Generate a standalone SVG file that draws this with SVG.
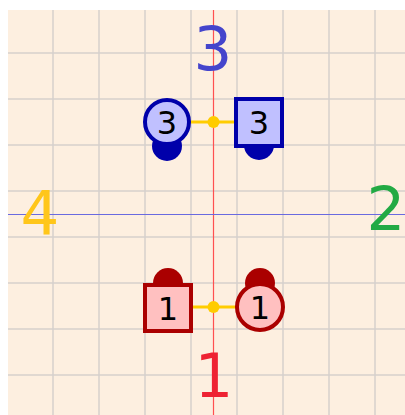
<svg xmlns="http://www.w3.org/2000/svg" width="405" height="415" viewBox="0 0 405 415">
<style>
.grid line{stroke:#d6d0cc;stroke-width:1.5}
.lbl{font-family:"DejaVu Sans",sans-serif;text-anchor:middle}
.big{font-size:61px}
.nl{font-size:32px;fill:#000}
.blue{fill:#c0c0ff;stroke:#0000aa;stroke-width:4}
.red{fill:#ffc0c0;stroke:#aa0000;stroke-width:4}
.conn line{stroke:#ffcc00;stroke-width:3}
.conn circle{fill:#ffcc00}
</style>
<rect x="8" y="10" width="397" height="405" fill="#fdefe0"/>
<g class="grid">
<line x1="53" y1="10" x2="53" y2="415"/><line x1="99" y1="10" x2="99" y2="415"/><line x1="145" y1="10" x2="145" y2="415"/><line x1="191" y1="10" x2="191" y2="415"/><line x1="237" y1="10" x2="237" y2="415"/><line x1="283" y1="10" x2="283" y2="415"/><line x1="329" y1="10" x2="329" y2="415"/><line x1="375" y1="10" x2="375" y2="415"/>
<line x1="8" y1="53" x2="405" y2="53"/><line x1="8" y1="99" x2="405" y2="99"/><line x1="8" y1="145" x2="405" y2="145"/><line x1="8" y1="191" x2="405" y2="191"/><line x1="8" y1="237" x2="405" y2="237"/><line x1="8" y1="283" x2="405" y2="283"/><line x1="8" y1="329" x2="405" y2="329"/><line x1="8" y1="375" x2="405" y2="375"/>
</g>
<line x1="213.5" y1="10" x2="213.5" y2="415" stroke="#ff5050" stroke-width="1.2"/>
<line x1="8" y1="214.5" x2="405" y2="214.5" stroke="#6a6ae0" stroke-width="1.2"/>
<text class="lbl big" x="213" y="70" fill="#4444cc">3</text>
<text class="lbl big" x="386" y="230" fill="#22aa44">2</text>
<text class="lbl big" x="40" y="234" fill="#ffc61a">4</text>
<text class="lbl big" x="214" y="397" fill="#ee2233">1</text>
<g class="conn">
<line x1="189" y1="122" x2="236" y2="122"/><circle cx="213.5" cy="122" r="6"/>
<line x1="191" y1="307" x2="237" y2="307"/><circle cx="213.5" cy="307" r="6"/>
</g>
<g id="node-3a">
<circle cx="167" cy="146" r="15" fill="#0000aa"/>
<circle class="blue" cx="167" cy="122" r="22"/>
<text class="lbl nl" x="167" y="133.5">3</text>
</g>
<g id="node-3b">
<circle cx="259" cy="145" r="15" fill="#0000aa"/>
<rect class="blue" x="236" y="99" width="46" height="47"/>
<text class="lbl nl" x="259" y="134">3</text>
</g>
<g id="node-1a">
<circle cx="168" cy="283" r="15" fill="#aa0000"/>
<rect class="red" x="145" y="285" width="46" height="46"/>
<text class="lbl nl" x="168" y="319.5">1</text>
</g>
<g id="node-1b">
<circle cx="260" cy="283" r="15" fill="#aa0000"/>
<circle class="red" cx="260" cy="307" r="23"/>
<text class="lbl nl" x="260" y="318.5">1</text>
</g>
</svg>
